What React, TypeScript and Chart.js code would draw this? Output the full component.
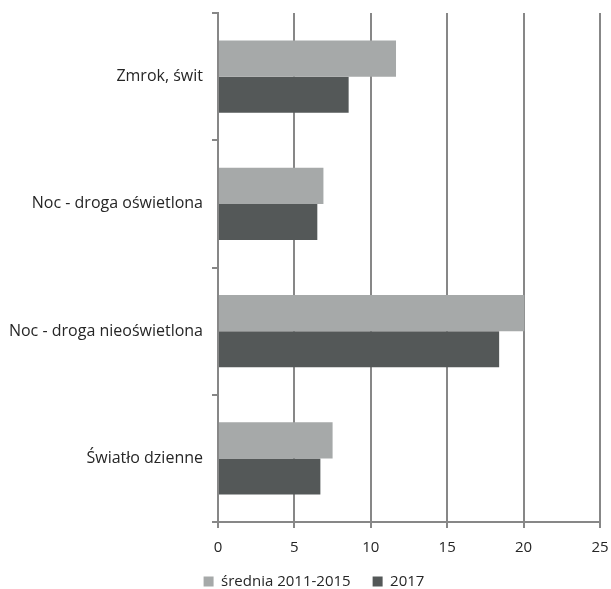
import React, { useEffect, useRef } from "react";
import { Chart, registerables } from "chart.js";

Chart.register(...registerables);

const categories = [
  "Zmrok, świt",
  "Noc - droga oświetlona",
  "Noc - droga nieoświetlona",
  "Światło dzienne",
];
const seriesNames = ["średnia 2011-2015", "2017"];
const avg20112015 = [11.65, 6.9, 20.05, 7.5];
const y2017 = [8.55, 6.5, 18.4, 6.7];
const xTicks = [0, 5, 10, 15, 20, 25];

const legendShift = {
  id: "legendShift",
  afterLayout(chart: any) {
    const lg = chart.legend;
    if (lg) {
      lg.left += 10;
      lg.right += 10;
    }
  },
};

export default function App() {
  const ref = useRef<HTMLCanvasElement>(null);
  useEffect(() => {
    if (!ref.current) return;
    const family = "'Open Sans', 'Liberation Sans', sans-serif";
    const gridColor = "#878787";
    const chart = new Chart(ref.current, {
      type: "bar",
      data: {
        labels: categories,
        datasets: [
          {
            label: seriesNames[0],
            data: avg20112015,
            backgroundColor: "#a6a9a9",
            borderWidth: 0,
          },
          {
            label: seriesNames[1],
            data: y2017,
            backgroundColor: "#545858",
            borderWidth: 0,
          },
        ],
      },
      plugins: [legendShift],
      options: {
        indexAxis: "y",
        animation: false,
        responsive: false,
        maintainAspectRatio: false,
        layout: { padding: { top: 13, right: 11, left: 8, bottom: -10 } },
        datasets: {
          bar: { barPercentage: 1, categoryPercentage: 0.567 },
        },
        scales: {
          x: {
            min: 0,
            max: 25,
            afterBuildTicks: (s: any) => {
              s.ticks = xTicks.map((v) => ({ value: v }));
            },
            ticks: { color: "#262626", font: { family, size: 15 }, padding: 11 },
            grid: {
              color: gridColor,
              lineWidth: 2,
              tickLength: 6,
              drawTicks: true,
            },
            border: { color: gridColor, width: 2 },
            afterFit: (s: any) => {
              s.height = 30;
              s.paddingRight = 0;
              s.paddingLeft = 0;
            },
          },
          y: {
            ticks: { color: "#262626", font: { family, size: 16 }, padding: 9 },
            grid: {
              offset: true,
              drawOnChartArea: false,
              drawTicks: true,
              tickLength: 6,
              color: gridColor,
              lineWidth: 2,
            },
            border: { color: gridColor, width: 2 },
            afterFit: (s: any) => {
              s.width = 210;
              s.paddingTop = 0;
              s.paddingBottom = 0;
            },
          },
        },
        plugins: {
          legend: {
            position: "bottom",
            labels: {
              color: "#262626",
              font: { family, size: 15 },
              boxWidth: 10,
              boxHeight: 10,
              padding: 22,
            },
          },
          tooltip: { enabled: false },
        },
      },
    });
    return () => chart.destroy();
  }, []);
  return (
    <div style={{ position: "fixed", left: 0, top: 0, width: 611, height: 589, background: "#fff" }}>
      <canvas ref={ref} width={611} height={589} />
    </div>
  );
}
